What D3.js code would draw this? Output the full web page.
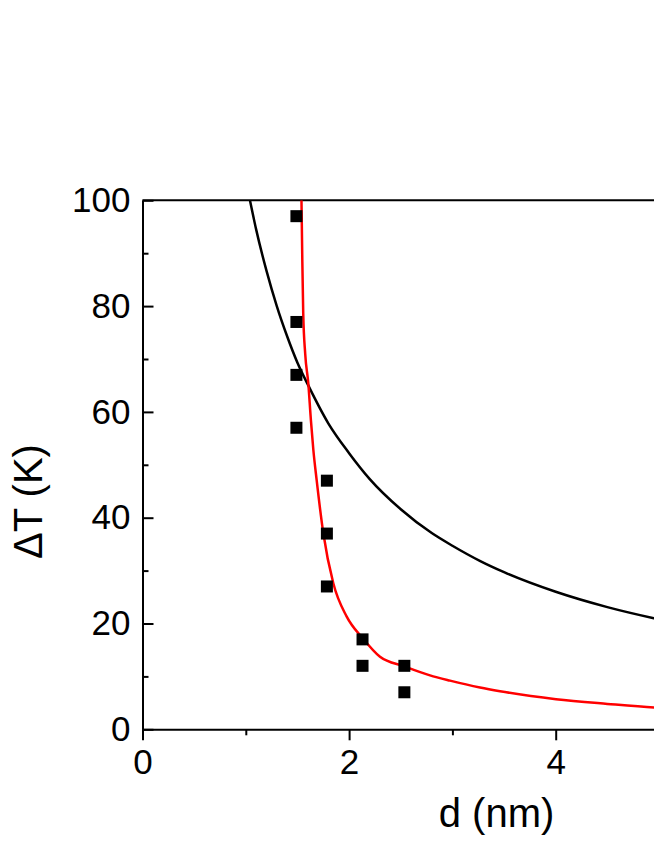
<!DOCTYPE html>
<html>
<head>
<meta charset="utf-8">
<script src="https://cdn.jsdelivr.net/npm/d3@7/dist/d3.min.js"></script>
<style>
  html, body { margin: 0; padding: 0; background: #fff; overflow: hidden; }
  svg { display: block; }
</style>
</head>
<body>
<svg id="chart" width="654" height="846"></svg>
<script>
// ---- data ----
const pointD = [1.49, 1.49, 1.49, 1.49, 1.785, 1.785, 1.785, 2.13, 2.13, 2.535, 2.535];
const pointT = [97, 77, 67, 57, 47, 37, 27, 17, 12, 12, 7];

const blackD = [1.04, 1.1, 1.2, 1.3, 1.4, 1.5, 1.6, 1.8, 2.0, 2.2, 2.5, 2.8, 3.0, 3.27, 3.5, 4.0, 4.5, 4.95, 5.3];
const blackT = [100, 94.5, 86.7, 80, 74.3, 69.3, 65.2, 57.8, 52.2, 47.3, 41.6, 37.1, 34.7, 31.8, 29.7, 26.0, 23.1, 21.0, 19.6];

const redD = [1.539, 1.547, 1.556, 1.575, 1.605, 1.63, 1.654, 1.686, 1.75, 1.847, 1.977, 2.132, 2.299, 2.534, 2.783, 2.977, 3.267, 3.461, 4.003, 4.5, 4.952, 5.3];
const redT = [100, 88.7, 78.6, 71.0, 65.4, 58.5, 52.8, 47.1, 37.1, 27.6, 21.3, 17.2, 13.7, 11.9, 10.2, 9.2, 7.9, 7.2, 5.7, 4.8, 4.1, 3.8];

const xMajor = [0, 2, 4];
const xMinor = [1, 3, 5];
const yMajor = [0, 20, 40, 60, 80, 100];
const yMinor = [10, 30, 50, 70, 90];

const xTitle = "d (nm)";
const yTitle = "\u0394T (K)";

// ---- layout ----
const svg = d3.select("#chart");
const plotLeft = 142.5, plotBottom = 729.3, plotTop = 200.3, pxPerUnit = 103.3;
const x = d3.scaleLinear().domain([0, 7]).range([plotLeft, plotLeft + 7 * pxPerUnit]);
const y = d3.scaleLinear().domain([0, 100]).range([plotBottom, plotTop]);

const fontFam = "'Liberation Sans', Arial, Helvetica, sans-serif";

svg.append("defs").append("clipPath").attr("id", "plotclip")
  .append("rect")
  .attr("x", x(0)).attr("y", y(100))
  .attr("width", x(7) - x(0)).attr("height", y(0) - y(100));

// top frame line
svg.append("line")
  .attr("x1", x(0)).attr("x2", x(7))
  .attr("y1", y(100)).attr("y2", y(100))
  .attr("stroke", "#000").attr("stroke-width", 2);

// x axis major
const gx = svg.append("g").attr("transform", `translate(0,${y(0)})`)
  .call(d3.axisBottom(x).tickValues(xMajor).tickSizeInner(11).tickSizeOuter(0).tickPadding(9).tickFormat(d3.format("d")));
gx.select(".domain").attr("stroke-width", 2);
gx.selectAll(".tick line").attr("stroke-width", 2);
gx.selectAll("text").attr("font-family", fontFam).attr("font-size", 35).attr("fill", "#000");
// x axis minor
const gxm = svg.append("g").attr("transform", `translate(0,${y(0)})`)
  .call(d3.axisBottom(x).tickValues(xMinor).tickSizeInner(6).tickSizeOuter(0).tickFormat(""));
gxm.select(".domain").remove();
gxm.selectAll(".tick line").attr("stroke-width", 2);

// y axis major (ticks inward)
const gy = svg.append("g").attr("transform", `translate(${x(0)},0)`)
  .call(d3.axisLeft(y).tickValues(yMajor).tickSizeInner(-11).tickSizeOuter(0).tickPadding(12).tickFormat(d3.format("d")));
gy.select(".domain").attr("stroke-width", 2);
gy.selectAll(".tick line").attr("stroke-width", 2);
gy.selectAll("text").attr("font-family", fontFam).attr("font-size", 35).attr("fill", "#000");
// y axis minor
const gym = svg.append("g").attr("transform", `translate(${x(0)},0)`)
  .call(d3.axisLeft(y).tickValues(yMinor).tickSizeInner(-6).tickSizeOuter(0).tickFormat(""));
gym.select(".domain").remove();
gym.selectAll(".tick line").attr("stroke-width", 2);

// curves
const plot = svg.append("g").attr("clip-path", "url(#plotclip)");
const line = d3.line().x(d => x(d[0])).y(d => y(d[1])).curve(d3.curveMonotoneX);

plot.append("path")
  .datum(blackD.map((d, i) => [d, blackT[i]]))
  .attr("d", line).attr("fill", "none").attr("stroke", "#000").attr("stroke-width", 2.5);

plot.append("path")
  .datum(redD.map((d, i) => [d, redT[i]]))
  .attr("d", line).attr("fill", "none").attr("stroke", "#ff0000").attr("stroke-width", 2.5);

// points
const sq = 12;
svg.append("g").selectAll("rect")
  .data(pointD.map((d, i) => [d, pointT[i]]))
  .join("rect")
  .attr("x", d => x(d[0]) - sq / 2)
  .attr("y", d => y(d[1]) - sq / 2)
  .attr("width", sq).attr("height", sq)
  .attr("fill", "#000");

// axis titles
svg.append("text")
  .attr("x", 496.5).attr("y", 827)
  .attr("text-anchor", "middle")
  .attr("font-family", fontFam).attr("font-size", 40).attr("fill", "#000")
  .text(xTitle);

svg.append("text")
  .attr("transform", "translate(42,501.5) rotate(-90)")
  .attr("text-anchor", "middle")
  .attr("font-family", fontFam).attr("font-size", 40).attr("fill", "#000")
  .text(yTitle);
</script>
</body>
</html>
